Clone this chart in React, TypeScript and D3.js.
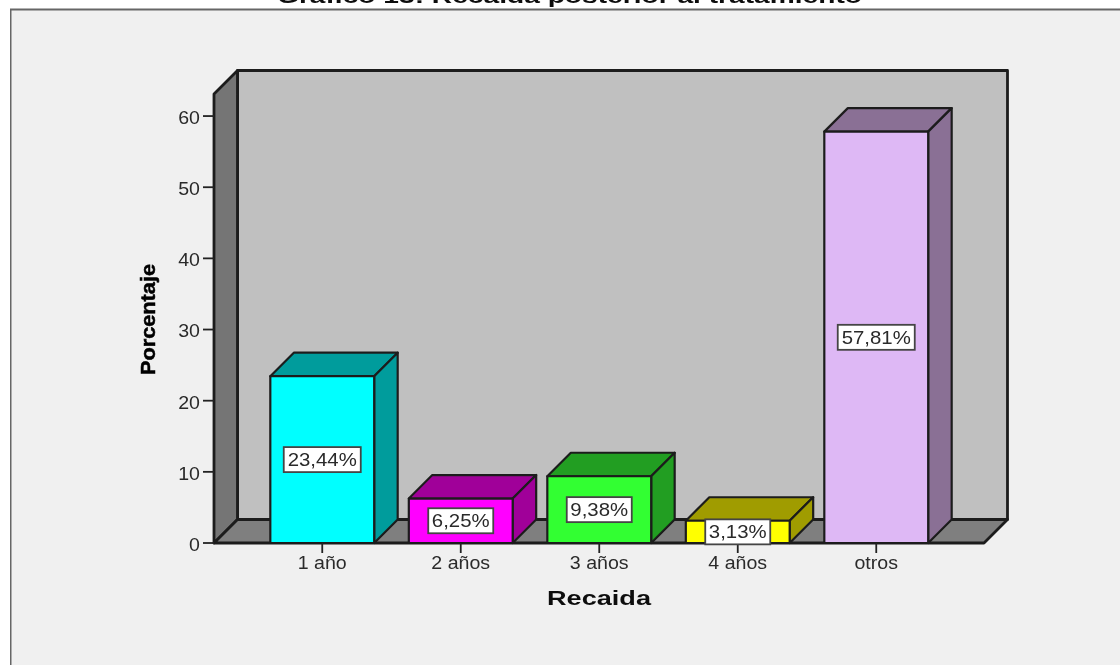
import { useEffect, useRef } from 'react';
import * as d3 from 'd3';

const WIDTH = 1120;
const HEIGHT = 665;
const DEPTH = 23.5;
const STRETCH = 1.12; // the picture is wider than it is tall, text included

const categories = ['1 año', '2 años', '3 años', '4 años', 'otros'];
const values = [23.44, 6.25, 9.38, 3.13, 57.81];
const valueLabels = ['23,44%', '6,25%', '9,38%', '3,13%', '57,81%'];
const yTicks = [0, 10, 20, 30, 40, 50, 60];
const faceColors = ['#00ffff', '#ff00ff', '#33ff33', '#ffff00', '#deb8f5'];
const sideColors = ['#009c9c', '#a00099', '#209e20', '#a09c00', '#8a7095'];

const FONT = 'Liberation Sans, Arial, sans-serif';
const LINE = '#1c1c1c';

const xScale = d3
    .scaleBand<string>()
    .domain(categories)
    .range([253, 945.5])
    .paddingInner(0.25)
    .paddingOuter(0.125);

const yScale = d3.scaleLinear().domain([0, 63.1]).range([543, 94]);

const App = () => {
    const xAxisRef = useRef<SVGGElement>(null);
    const yAxisRef = useRef<SVGGElement>(null);

    const x0 = 214;
    const x1 = 984;
    const y0 = yScale(0);
    const yTop = yScale(63.1);

    useEffect(() => {
        const yAxis = d3.select(yAxisRef.current!);
        yAxis.selectAll('*').remove();
        yAxis.call(d3.axisLeft(yScale).tickValues(yTicks).tickSize(11).tickPadding(0).offset(0) as any);
        yAxis.select('.domain').remove();
        yAxis.selectAll('line').attr('stroke', '#222').attr('stroke-width', 1.8);
        yAxis
            .selectAll('text')
            .attr('x', -14 / STRETCH)
            .attr('dy', '0.45em')
            .attr('transform', `scale(${STRETCH},1)`)
            .attr('fill', '#2a2a2a')
            .attr('font-size', 17.5)
            .attr('font-family', FONT);

        const xAxis = d3.select(xAxisRef.current!);
        xAxis.selectAll('*').remove();
        xAxis.call(d3.axisBottom(xScale).tickSize(10).tickPadding(0).offset(0) as any);
        xAxis.select('.domain').remove();
        xAxis.selectAll('line').attr('stroke', '#222').attr('stroke-width', 1.8);
        xAxis
            .selectAll('text')
            .attr('y', 26)
            .attr('dy', 0)
            .attr('transform', `scale(${STRETCH},1)`)
            .attr('fill', '#2a2a2a')
            .attr('font-size', 17.5)
            .attr('font-family', FONT);
    }, []);

    const bars = categories.map((cat, i) => {
        const left = xScale(cat)!;
        const right = left + xScale.bandwidth();
        const top = yScale(values[i]);
        return (
            <g key={cat} stroke={LINE} strokeWidth={2.2} strokeLinejoin="round">
                <polygon
                    points={`${left},${top} ${left + DEPTH},${top - DEPTH} ${right + DEPTH},${top - DEPTH} ${right},${top}`}
                    fill={sideColors[i]}
                />
                <polygon
                    points={`${right},${top} ${right + DEPTH},${top - DEPTH} ${right + DEPTH},${y0 - DEPTH} ${right},${y0}`}
                    fill={sideColors[i]}
                />
                <rect x={left} y={top} width={xScale.bandwidth()} height={y0 - top} fill={faceColors[i]} />
            </g>
        );
    });

    const labels = categories.map((cat, i) => {
        const cx = xScale(cat)! + xScale.bandwidth() / 2;
        const cy = yScale(values[i] / 2);
        const boxWidth = valueLabels[i].length * 12 + 5;
        return (
            <g key={cat} transform={`translate(${cx},${cy})`}>
                <rect x={-boxWidth / 2} y={-12.5} width={boxWidth} height={25} fill="#fff" stroke="#444" strokeWidth={1.8} />
                <text
                    transform={`scale(${STRETCH},1)`}
                    y={6.5}
                    textAnchor="middle"
                    fontSize={18.2}
                    fontFamily={FONT}
                    fill="#2a2a2a"
                >
                    {valueLabels[i]}
                </text>
            </g>
        );
    });

    return (
        <svg width={WIDTH} height={HEIGHT} style={{ position: 'absolute', left: 0, top: 0 }}>
            <defs>
                <filter id="soft" x="0" y="0" width="100%" height="100%">
                    <feGaussianBlur stdDeviation="0.6" />
                </filter>
            </defs>
            <rect width={WIDTH} height={HEIGHT} fill="#fff" />
            <g filter="url(#soft)">
                <path d={`M10.5,${HEIGHT + 5} V9.5 H${WIDTH + 5} V${HEIGHT + 5} Z`} fill="#f0f0f0" stroke="#666" strokeWidth={2} />
                <text
                    x={569.5}
                    y={3}
                    textAnchor="middle"
                    fontSize={21}
                    fontWeight="bold"
                    fontFamily={FONT}
                    fill="#111"
                    textLength={585}
                    lengthAdjust="spacingAndGlyphs"
                >
                    Gráfico 13: Recaída posterior al tratamiento
                </text>

                <g stroke={LINE} strokeWidth={2.8} strokeLinejoin="round">
                    <rect x={x0 + DEPTH} y={yTop - DEPTH} width={x1 - x0} height={y0 - yTop} fill="#c0c0c0" />
                    <polygon
                        points={`${x0},${yTop} ${x0 + DEPTH},${yTop - DEPTH} ${x0 + DEPTH},${y0 - DEPTH} ${x0},${y0}`}
                        fill="#757575"
                    />
                    <polygon
                        points={`${x0},${y0} ${x0 + DEPTH},${y0 - DEPTH} ${x1 + DEPTH},${y0 - DEPTH} ${x1},${y0}`}
                        fill="#7f7f7f"
                    />
                </g>

                {bars}

                <g ref={yAxisRef} transform={`translate(${x0},0)`} />
                <g ref={xAxisRef} transform={`translate(0,${y0})`} />

                {labels}

                <text
                    transform="translate(155,319.5) rotate(-90)"
                    textAnchor="middle"
                    fontSize={20}
                    fontWeight="bold"
                    fontFamily={FONT}
                    fill="#000"
                    stroke="#000"
                    strokeWidth={0.5}
                    textLength={111}
                    lengthAdjust="spacingAndGlyphs"
                >
                    Porcentaje
                </text>
                <text
                    x={599}
                    y={605}
                    textAnchor="middle"
                    fontSize={20}
                    fontWeight="bold"
                    fontFamily={FONT}
                    fill="#111"
                    textLength={104}
                    lengthAdjust="spacingAndGlyphs"
                >
                    Recaida
                </text>
            </g>
        </svg>
    );
};

export default App;
